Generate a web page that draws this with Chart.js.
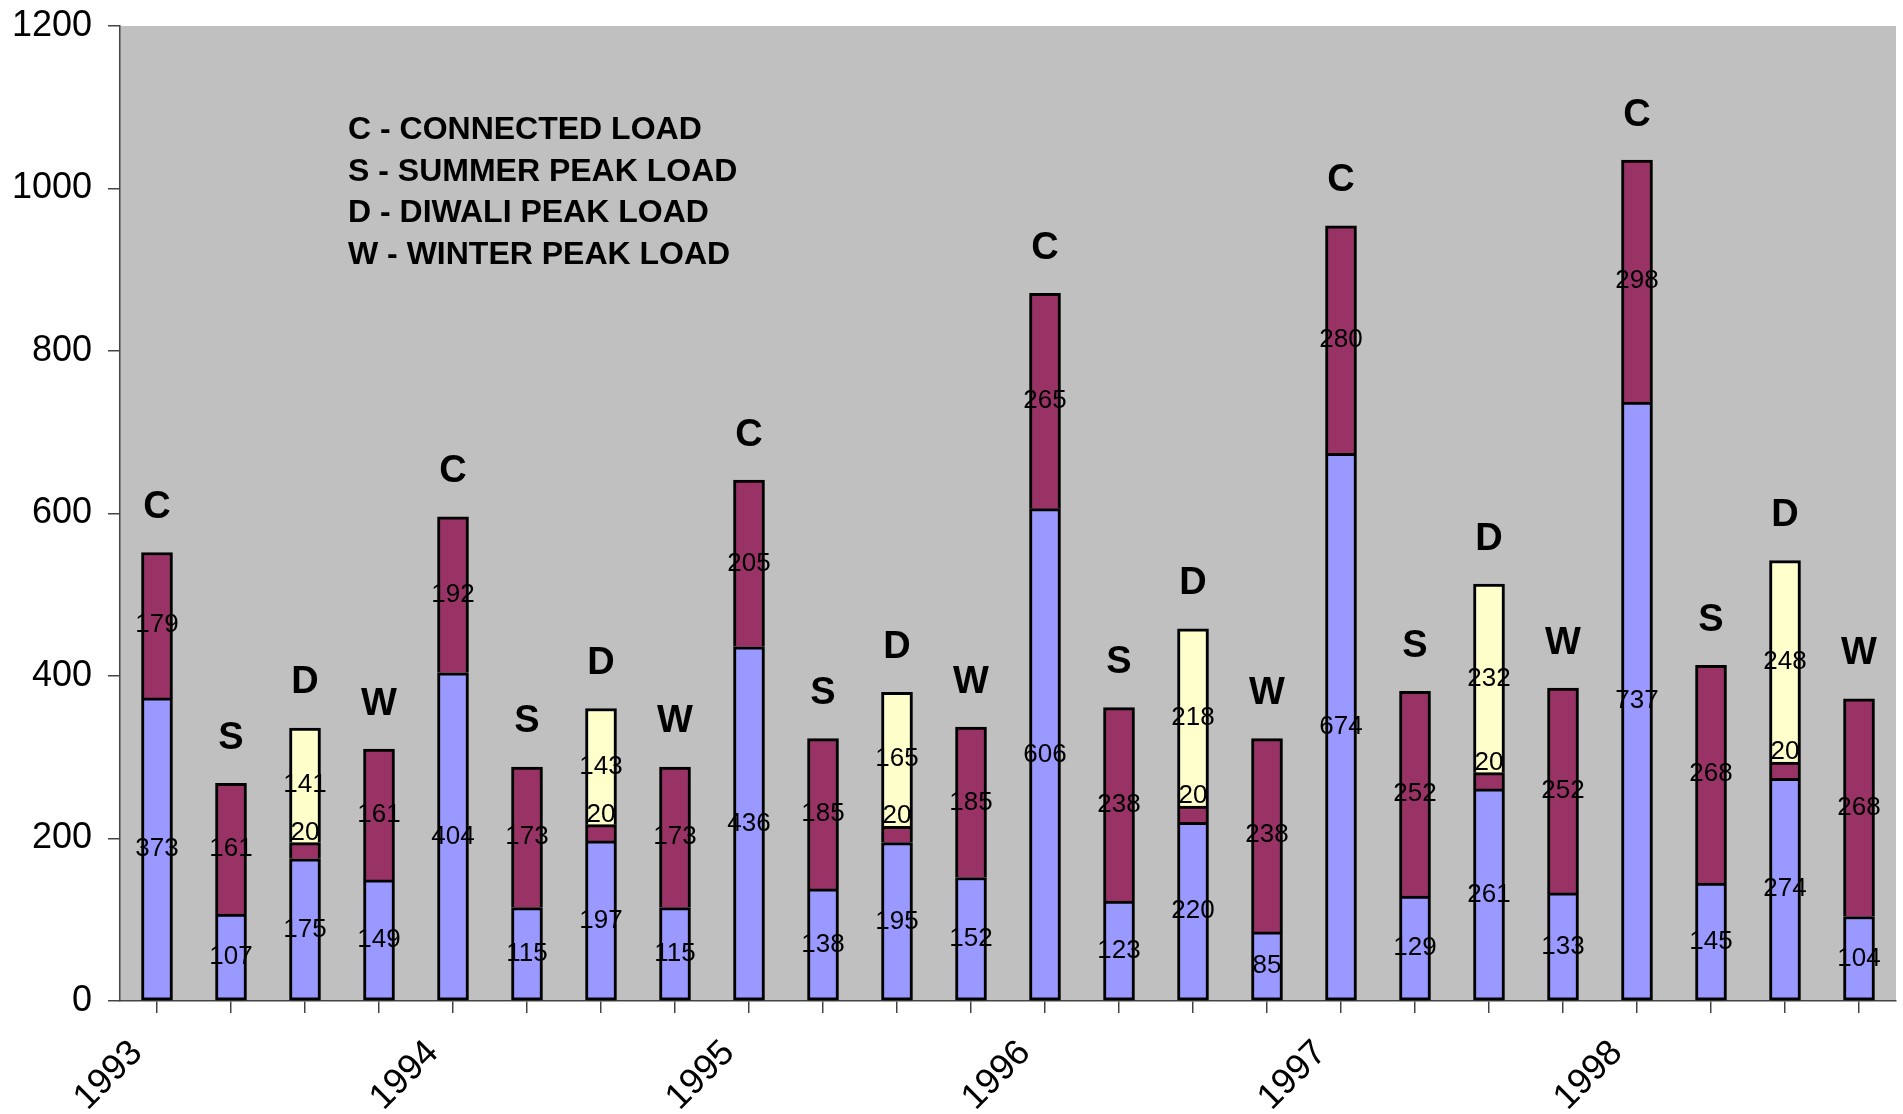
<!DOCTYPE html>
<html lang="en">
<head>
<meta charset="UTF-8">
<title>Connected and peak load 1993-1998</title>
<script src="https://cdn.jsdelivr.net/npm/chart.js"></script>
<style>
  html, body { margin: 0; padding: 0; background: #fff; overflow: hidden; }
</style>
</head>
<body>
<canvas id="loadChart" width="1903" height="1114"></canvas>
<script>
// one group of four bars per year: C, S, D, W
const years = ['1993', '1994', '1995', '1996', '1997', '1998'];
const seasons = ['C', 'S', 'D', 'W'];
const legendLines = ['C - CONNECTED LOAD', 'S - SUMMER PEAK LOAD', 'D - DIWALI PEAK LOAD', 'W - WINTER PEAK LOAD'];

const connectedBase = [373, 404, 436, 606, 674, 737];
const connectedTop  = [179, 192, 205, 265, 280, 298];
const summerBase    = [107, 115, 138, 123, 129, 145];
const summerTop     = [161, 173, 185, 238, 252, 268];
const diwaliBase    = [175, 197, 195, 220, 261, 274];
const diwaliMid     = [20, 20, 20, 20, 20, 20];
const diwaliTop     = [141, 143, 165, 218, 232, 248];
const winterBase    = [149, 115, 152, 85, 133, 104];
const winterTop     = [161, 173, 185, 238, 252, 268];

const yTicks = [0, 200, 400, 600, 800, 1000, 1200];

// interleave the seasons so each year is C, S, D, W
const blue = [], maroon = [], yellow = [], letters = [];
years.forEach((yr, i) => {
  blue.push(connectedBase[i], summerBase[i], diwaliBase[i], winterBase[i]);
  maroon.push(connectedTop[i], summerTop[i], diwaliMid[i], winterTop[i]);
  yellow.push(null, null, diwaliTop[i], null);
  letters.push(...seasons);
});
const toPoints = arr => arr.map((v, i) => ({ x: i + 0.5, y: v }));

const FONT = '"Liberation Sans", Arial, Helvetica, sans-serif';
Chart.defaults.font.family = FONT;
Chart.defaults.color = '#000';

// grey plot area
const plotBg = {
  id: 'plotBg',
  beforeDraw(chart) {
    const { ctx, chartArea: a } = chart;
    ctx.save();
    ctx.fillStyle = '#c0c0c0';
    ctx.fillRect(a.left, a.top, a.right - a.left, a.bottom - a.top);
    ctx.restore();
  }
};

// numbers inside segments, season letter above each bar, key text
const annotations = {
  id: 'annotations',
  afterDatasetsDraw(chart) {
    const { ctx, chartArea: a } = chart;
    ctx.save();
    ctx.fillStyle = '#000';
    ctx.textAlign = 'center';
    ctx.textBaseline = 'middle';
    ctx.font = '26px ' + FONT;
    const tops = [];
    chart.data.datasets.forEach((ds, di) => {
      chart.getDatasetMeta(di).data.forEach((bar, i) => {
        const v = ds.data[i].y;
        if (v == null) return;
        tops[i] = tops[i] == null ? bar.y : Math.min(tops[i], bar.y);
        const h = Math.abs(bar.base - bar.y);
        const y = h < 24 ? bar.y - 10 : (bar.y + bar.base) / 2;
        ctx.fillText(v, bar.x, y);
      });
    });

    ctx.font = 'bold 38px ' + FONT;
    const meta = chart.getDatasetMeta(0);
    letters.forEach((l, i) => {
      ctx.fillText(l, meta.data[i].x, tops[i] - 45);
    });

    ctx.textAlign = 'left';
    ctx.font = 'bold 32px ' + FONT;
    legendLines.forEach((t, k) => {
      ctx.fillText(t, a.left + 228, a.top + 104 + k * 41.7);
    });
    ctx.restore();
  }
};

const barStyle = { borderColor: '#000', borderWidth: 3, barThickness: 31 };

new Chart(document.getElementById('loadChart'), {
  type: 'bar',
  data: {
    datasets: [
      { label: 'base', data: toPoints(blue), backgroundColor: '#9999ff', borderSkipped: false, ...barStyle },
      { label: 'peak', data: toPoints(maroon), backgroundColor: '#993366', borderSkipped: 'bottom', ...barStyle },
      { label: 'diwali', data: toPoints(yellow), backgroundColor: '#ffffcc', borderSkipped: 'bottom', ...barStyle }
    ]
  },
  options: {
    responsive: false,
    animation: false,
    layout: { padding: { top: 26, right: 7, left: 0, bottom: 0 } },
    plugins: { legend: { display: false }, tooltip: { enabled: false } },
    scales: {
      x: {
        type: 'linear',
        stacked: true,
        min: 0,
        max: 24,
        offset: false,
        grid: { drawOnChartArea: false, tickLength: 12, color: '#444', lineWidth: 1.5 },
        border: { color: '#444', width: 1.5 },
        ticks: {
          stepSize: 1,
          maxTicksLimit: 30,
          autoSkip: false,
          minRotation: 45,
          maxRotation: 45,
          padding: 19,
          labelOffset: 17,
          font: { size: 36 },
          callback: v => (v % 4 === 0 && v < 24) ? years[v / 4] : ''
        },
        afterFit(s) { s.height = 113; s.paddingLeft = 0; s.paddingRight = 0; }
      },
      y: {
        stacked: true,
        min: yTicks[0],
        max: yTicks[yTicks.length - 1],
        grid: { drawOnChartArea: false, tickLength: 12, color: '#444', lineWidth: 1.5 },
        border: { color: '#444', width: 1.5 },
        ticks: { stepSize: 200, padding: 16, font: { size: 36 }, callback: v => String(v) },
        afterFit(s) { s.width = 120; s.paddingTop = 0; s.paddingBottom = 0; }
      }
    }
  },
  plugins: [plotBg, annotations]
});
</script>
</body>
</html>
